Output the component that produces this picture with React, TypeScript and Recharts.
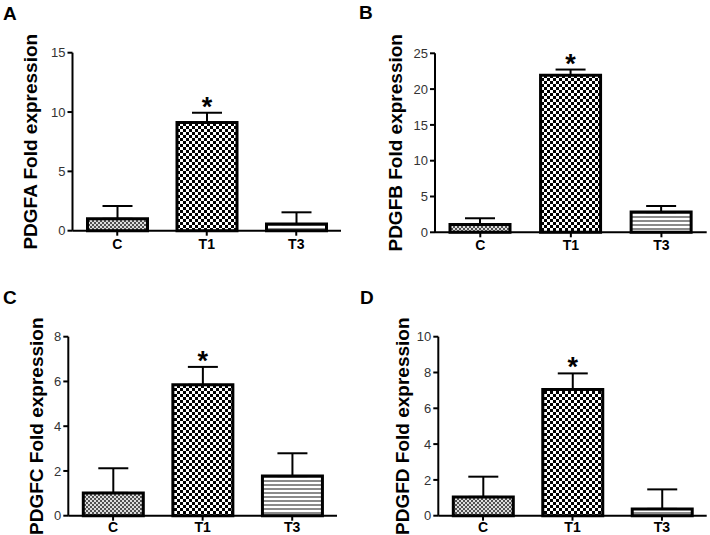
import React from 'react';
import { BarChart, Bar, XAxis, YAxis, ErrorBar, Cell, LabelList } from 'recharts';

const FONT = 'Arial, "Liberation Sans", Helvetica, sans-serif';

const categories = ['C', 'T1', 'T3'];
const significance = ['', '*', ''];

const pdgfaValues = [1.0, 9.12, 0.56];
const pdgfaErrors = [1.08, 0.82, 0.99];
const pdgfaTicks = [0, 5, 10, 15];

const pdgfbValues = [1.1, 21.95, 2.82];
const pdgfbErrors = [0.86, 0.78, 0.85];
const pdgfbTicks = [0, 5, 10, 15, 20, 25];

const pdgfcValues = [1.02, 5.85, 1.77];
const pdgfcErrors = [1.1, 0.8, 1.02];
const pdgfcTicks = [0, 2, 4, 6, 8];

const pdgfdValues = [1.05, 7.05, 0.38];
const pdgfdErrors = [1.13, 0.9, 1.09];
const pdgfdTicks = [0, 2, 4, 6, 8, 10];

type PanelProps = {
  id: string;
  letter: string;
  title: string;
  values: number[];
  errors: number[];
  ticks: number[];
  left: number;
  top: number;
  margin: { top: number; right: number; bottom: number; left: number };
  labelOffset: number;
  xTickMargin: number;
  letterPos: { left: number; top: number };
};

function buildData(values: number[], errors: number[]) {
  return categories.map((c, i) => ({
    name: c,
    value: values[i],
    err: [0, errors[i]],
    errUp: errors[i],
    sig: significance[i],
  }));
}

function Panel(p: PanelProps) {
  const data = buildData(p.values, p.errors);
  const W = 355;
  const H = 267;
  const renderStar = (props: any) => {
    const { x, y, width, height, value, index } = props;
    if (!value) return null;
    const d = data[index];
    const pxPerUnit = height / d.value;
    const errTop = y - d.errUp * pxPerUnit;
    return (
      <text
        x={x + width / 2}
        y={errTop + 3}
        textAnchor="middle"
        fontFamily={FONT}
        fontWeight="bold"
        fontSize={27}
        fill="#000"
      >
        {value}
      </text>
    );
  };
  return (
    <div style={{ position: 'absolute', left: p.left, top: p.top, width: W, height: H }}>
      <div
        style={{
          position: 'absolute',
          left: p.letterPos.left - p.left,
          top: p.letterPos.top - p.top,
          fontFamily: FONT,
          fontWeight: 'bold',
          fontSize: 19,
          lineHeight: '19px',
          color: '#000',
        }}
      >
        {p.letter}
      </div>
      <BarChart width={W} height={H} data={data} margin={p.margin} style={{ overflow: 'visible' }}>
        <defs>
          <pattern id={`${p.id}-p0`} width="4" height="4" patternUnits="userSpaceOnUse">
            <rect width="4" height="4" fill="#dcdcdc" />
            <rect x="0" y="0" width="2" height="2" fill="#505050" />
            <rect x="2" y="2" width="2" height="2" fill="#505050" />
          </pattern>
          <pattern id={`${p.id}-p1`} width="6" height="6" patternUnits="userSpaceOnUse">
            <rect width="6" height="6" fill="#ffffff" />
            <rect x="0" y="0" width="3" height="3" fill="#000000" />
            <rect x="3" y="3" width="3" height="3" fill="#000000" />
          </pattern>
          <pattern id={`${p.id}-p2`} width="4" height="4" patternUnits="userSpaceOnUse">
            <rect width="4" height="4" fill="#ffffff" />
            <rect x="0" y="0" width="4" height="2" fill="#8a8a8a" />
          </pattern>
        </defs>
        <XAxis
          dataKey="name"
          height={16}
          axisLine={{ stroke: '#000', strokeWidth: 2 }}
          tickLine={{ stroke: '#000', strokeWidth: 2 }}
          tickSize={5}
          tickMargin={p.xTickMargin}
          tick={{ fill: '#000', fontSize: 14, fontWeight: 'bold', fontFamily: FONT }}
        />
        <YAxis
          width={60}
          domain={[p.ticks[0], p.ticks[p.ticks.length - 1]]}
          ticks={p.ticks}
          interval={0}
          axisLine={{ stroke: '#000', strokeWidth: 2 }}
          tickLine={{ stroke: '#000', strokeWidth: 2 }}
          tickSize={5}
          tickMargin={2}
          tick={{ fill: '#333', fontSize: 13, fontFamily: FONT }}
          label={{
            value: p.title,
            angle: -90,
            position: 'insideLeft',
            offset: p.labelOffset,
            textAnchor: 'middle',
            style: { textAnchor: 'middle', fontSize: 19, fontWeight: 'bold', fill: '#000', fontFamily: FONT },
          }}
        />
        <Bar
          dataKey="value"
          barSize={60}
          stroke="#000"
          strokeWidth={3}
          isAnimationActive={false}
        >
          {data.map((_, i) => (
            <Cell key={i} fill={`url(#${p.id}-p${i})`} />
          ))}
          <ErrorBar dataKey="err" width={15} stroke="#000" strokeWidth={2} direction="y" />
          <LabelList dataKey="sig" content={renderStar} />
        </Bar>
      </BarChart>
    </div>
  );
}

export default function App() {
  return (
    <div style={{ position: 'absolute', left: 0, top: 0, width: 710, height: 535, background: '#fff', overflow: 'hidden' }}>
      <Panel
        id="pa"
        letter="A"
        title="PDGFA Fold expression"
        values={pdgfaValues}
        errors={pdgfaErrors}
        ticks={pdgfaTicks}
        left={0}
        top={0}
        margin={{ top: 52.7, right: 14, bottom: 20.3, left: 12.5 }}
        labelOffset={17.5}
        xTickMargin={3}
        letterPos={{ left: 3, top: 3.5 }}
      />
      <Panel
        id="pb"
        letter="B"
        title="PDGFB Fold expression"
        values={pdgfbValues}
        errors={pdgfbErrors}
        ticks={pdgfbTicks}
        left={355}
        top={0}
        margin={{ top: 53.3, right: 3.3, bottom: 18.7, left: 20 }}
        labelOffset={20}
        xTickMargin={3}
        letterPos={{ left: 359, top: 2.5 }}
      />
      <Panel
        id="pc"
        letter="C"
        title="PDGFC Fold expression"
        values={pdgfcValues}
        errors={pdgfcErrors}
        ticks={pdgfcTicks}
        left={0}
        top={268}
        margin={{ top: 68.7, right: 18, bottom: 3.3, left: 8.3 }}
        labelOffset={27.7}
        xTickMargin={1}
        letterPos={{ left: 3, top: 288.2 }}
      />
      <Panel
        id="pd"
        letter="D"
        title="PDGFD Fold expression"
        values={pdgfdValues}
        errors={pdgfdErrors}
        ticks={pdgfdTicks}
        left={355}
        top={268}
        margin={{ top: 68.7, right: 3.3, bottom: 3.3, left: 23.3 }}
        labelOffset={23.7}
        xTickMargin={1}
        letterPos={{ left: 360, top: 288.2 }}
      />
    </div>
  );
}
